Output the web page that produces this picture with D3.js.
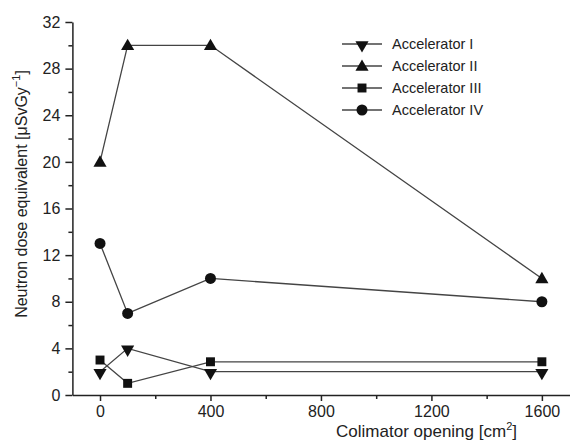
<!DOCTYPE html>
<html>
<head>
<meta charset="utf-8">
<script src="https://d3js.org/d3.v7.min.js"></script>
<style>
  body { margin: 0; background: #fff; font-family: "Liberation Sans", Arial, sans-serif; }
  .axis text { font-size: 16px; fill: #222; font-family: "Liberation Sans", Arial, sans-serif; }
  .axis path, .axis line { stroke: #222; stroke-width: 1.5px; }
</style>
</head>
<body>
<script>
// data
var openings = [0, 100, 400, 1600];
var seriesNames = ["Accelerator I", "Accelerator II", "Accelerator III", "Accelerator IV"];
var accI = [2, 4, 2, 2];
var accII = [20, 30, 30, 10];
var accIII = [3, 1, 2.85, 2.85];
var accIV = [13, 7, 10, 8];
var xTicks = [0, 400, 800, 1200, 1600];
var yTicks = [0, 4, 8, 12, 16, 20, 24, 28, 32];

var series = [
  {name: seriesNames[0], values: accI, shape: "down"},
  {name: seriesNames[1], values: accII, shape: "up"},
  {name: seriesNames[2], values: accIII, shape: "square"},
  {name: seriesNames[3], values: accIV, shape: "circle"}
];

var W = 572, H = 446;
var svg = d3.select("body").append("svg").attr("width", W).attr("height", H);

var x = d3.scaleLinear().domain([-100, 1700]).range([72.4, 569.5]);
var y = d3.scaleLinear().domain([0, 32]).range([395, 22]);

// axes
svg.append("g").attr("class", "axis")
  .attr("transform", "translate(0," + y(0) + ")")
  .call(d3.axisBottom(x).tickValues(xTicks).tickFormat(d3.format("d")).tickSize(6).tickPadding(5).tickSizeOuter(0));
svg.append("g").attr("class", "axis")
  .attr("transform", "translate(0," + y(0) + ")")
  .call(d3.axisBottom(x).tickValues([200, 600, 1000, 1400]).tickSize(4).tickFormat("").tickSizeOuter(0))
  .select(".domain").remove();

svg.append("g").attr("class", "axis")
  .attr("transform", "translate(" + x(-100) + ",0)")
  .call(d3.axisLeft(y).tickValues(yTicks).tickSize(7).tickPadding(5).tickSizeOuter(0));
svg.append("g").attr("class", "axis")
  .attr("transform", "translate(" + x(-100) + ",0)")
  .call(d3.axisLeft(y).tickValues(d3.range(2, 32, 4)).tickSize(4).tickFormat("").tickSizeOuter(0))
  .select(".domain").remove();

// markers
function symbolPath(shape) {
  if (shape === "circle") return d3.symbol(d3.symbolCircle, 95)();
  if (shape === "square") return d3.symbol(d3.symbolSquare, 80)();
  return d3.symbol(d3.symbolTriangle, 75)();
}
function symbolTransform(shape, px, py) {
  if (shape === "down") return "translate(" + px + "," + (py + 1) + ") rotate(180)";
  if (shape === "up") return "translate(" + px + "," + (py + 1) + ")";
  return "translate(" + px + "," + py + ")";
}

var line = d3.line()
  .x(function(d, i) { return x(openings[i]); })
  .y(function(d) { return y(d); });

series.forEach(function(s) {
  svg.append("path")
    .datum(s.values)
    .attr("fill", "none")
    .attr("stroke", "#444")
    .attr("stroke-width", 1.3)
    .attr("d", line);
});
series.forEach(function(s) {
  svg.selectAll(null)
    .data(s.values)
    .enter().append("path")
    .attr("d", symbolPath(s.shape))
    .attr("fill", "#111")
    .attr("transform", function(d, i) { return symbolTransform(s.shape, x(openings[i]), y(d)); });
});

// legend
var legend = svg.selectAll(".legend")
  .data(series)
  .enter().append("g")
  .attr("class", "legend")
  .attr("transform", function(d, i) { return "translate(0," + (44 + i * 22) + ")"; });

legend.append("line")
  .attr("x1", 342).attr("x2", 382)
  .attr("stroke", "#444").attr("stroke-width", 1.3);
legend.append("path")
  .attr("d", function(d) { return symbolPath(d.shape); })
  .attr("fill", "#111")
  .attr("transform", function(d) { return symbolTransform(d.shape, 362, 0); });
legend.append("text")
  .attr("x", 392)
  .attr("dy", "0.35em")
  .style("font-size", "14.5px")
  .style("fill", "#222")
  .text(function(d) { return d.name; });

// axis titles
var xt = svg.append("text")
  .attr("x", 517).attr("y", 437)
  .attr("text-anchor", "end")
  .style("font-size", "17px").style("fill", "#222");
xt.append("tspan").text("Colimator opening [cm");
xt.append("tspan").attr("dy", -7).style("font-size", "11px").text("2");
xt.append("tspan").attr("dy", 7).text("]");

var yt = svg.append("text")
  .attr("transform", "translate(27,194) rotate(-90)")
  .attr("text-anchor", "middle")
  .style("font-size", "16px").style("fill", "#222");
yt.append("tspan").text("Neutron dose equivalent [\u03bcSvGy");
yt.append("tspan").attr("dy", -7).style("font-size", "11px").text("\u22121");
yt.append("tspan").attr("dy", 7).text("]");
</script>
</body>
</html>
